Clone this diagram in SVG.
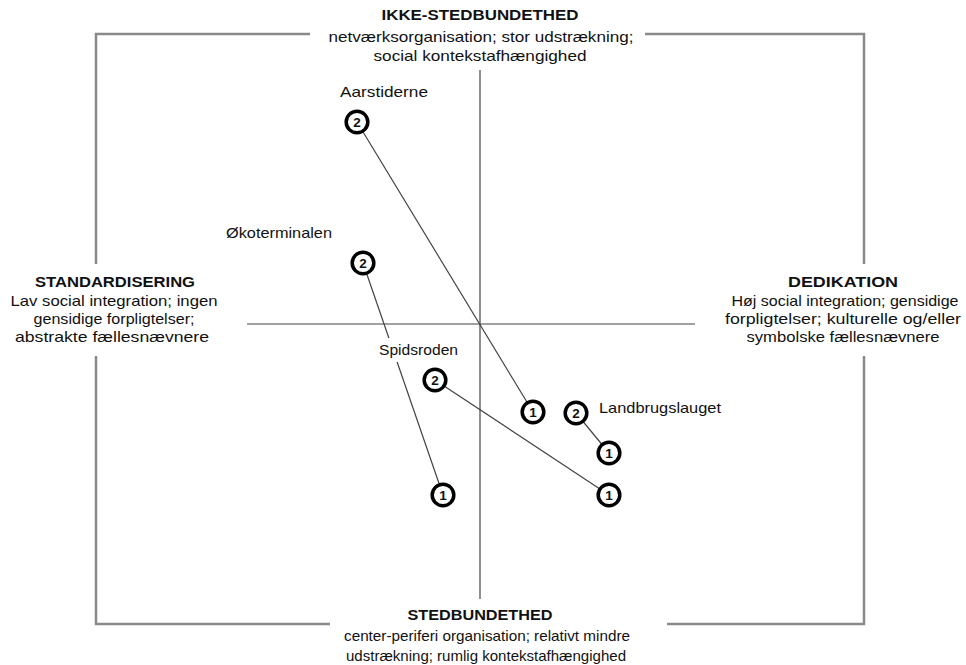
<svg xmlns="http://www.w3.org/2000/svg" width="966" height="665" viewBox="0 0 966 665">
<style>
text{font-family:"Liberation Sans",Arial,sans-serif;fill:#111;}
.h{font-weight:bold;font-size:14px;text-anchor:middle;}
.t{font-size:14.5px;text-anchor:middle;}
.lbl{font-size:14.5px;}
.frame{stroke:#8a8a8a;stroke-width:2.5;fill:none;}
.axis{stroke:#444;stroke-width:1.2;fill:none;}
.conn line{stroke:#444;stroke-width:1.2;}
.node circle{fill:#fff;stroke:#000;stroke-width:3.5;}
.num{font-size:13.5px;text-anchor:middle;font-weight:bold;}
</style>
<rect width="966" height="665" fill="#fff"/>
<g id="frame">
<path class="frame" d="M310 34 H96 V264"/>
<path class="frame" d="M96 356 V624 H330"/>
<path class="frame" d="M645 34 H864 V264"/>
<path class="frame" d="M864 356 V624 H667"/>
</g>
<g id="axes">
<line class="axis" x1="480" y1="70" x2="480" y2="599"/>
<line class="axis" x1="247" y1="324" x2="695" y2="324"/>
</g>
<g id="axis-labels">
<text class="h" x="480" y="20" textLength="197" lengthAdjust="spacingAndGlyphs">IKKE-STEDBUNDETHED</text>
<text class="t" x="481" y="42" textLength="305" lengthAdjust="spacingAndGlyphs">netværksorganisation; stor udstrækning;</text>
<text class="t" x="480" y="61" textLength="213" lengthAdjust="spacingAndGlyphs">social kontekstafhængighed</text>
<text class="h" x="115" y="287" textLength="160" lengthAdjust="spacingAndGlyphs">STANDARDISERING</text>
<text class="t" x="114" y="306" textLength="207" lengthAdjust="spacingAndGlyphs">Lav social integration; ingen</text>
<text class="t" x="114" y="324" textLength="161" lengthAdjust="spacingAndGlyphs">gensidige forpligtelser;</text>
<text class="t" x="112" y="342" textLength="194" lengthAdjust="spacingAndGlyphs">abstrakte fællesnævnere</text>
<text class="h" x="843" y="287" textLength="110" lengthAdjust="spacingAndGlyphs">DEDIKATION</text>
<text class="t" x="845" y="306" textLength="227" lengthAdjust="spacingAndGlyphs">Høj social integration; gensidige</text>
<text class="t" x="843" y="324" textLength="236" lengthAdjust="spacingAndGlyphs">forpligtelser; kulturelle og/eller</text>
<text class="t" x="843" y="342" textLength="193" lengthAdjust="spacingAndGlyphs">symbolske fællesnævnere</text>
<text class="h" x="480" y="620" textLength="145" lengthAdjust="spacingAndGlyphs">STEDBUNDETHED</text>
<text class="t" x="487" y="641" textLength="286" lengthAdjust="spacingAndGlyphs">center-periferi organisation; relativt mindre</text>
<text class="t" x="486" y="661" textLength="280" lengthAdjust="spacingAndGlyphs">udstrækning; rumlig kontekstafhængighed</text>
</g>
<g id="connectors" class="conn">
<line x1="357" y1="122" x2="533" y2="412"/>
<line x1="363" y1="263" x2="443" y2="495"/>
<line x1="435" y1="380" x2="609" y2="495"/>
<line x1="576" y1="413" x2="609" y2="453"/>
</g>
<g id="spidsroden-label">
<rect x="375" y="338" width="86" height="24" fill="#fff"/>
<text class="lbl" x="379" y="355" textLength="79" lengthAdjust="spacingAndGlyphs">Spidsroden</text>
</g>
<g id="aarstiderne">
<text class="lbl" x="340" y="97" textLength="88" lengthAdjust="spacingAndGlyphs">Aarstiderne</text>
<g class="node"><circle cx="357" cy="122" r="10.8"/><text class="num" x="357" y="127">2</text></g>
<g class="node"><circle cx="533" cy="412" r="10.8"/><text class="num" x="533" y="417">1</text></g>
</g>
<g id="okoterminalen">
<text class="lbl" x="226" y="238" textLength="106" lengthAdjust="spacingAndGlyphs">Økoterminalen</text>
<g class="node"><circle cx="363" cy="263" r="10.8"/><text class="num" x="363" y="268">2</text></g>
<g class="node"><circle cx="443" cy="495" r="10.8"/><text class="num" x="443" y="500">1</text></g>
</g>
<g id="spidsroden">
<g class="node"><circle cx="435" cy="380" r="10.8"/><text class="num" x="435" y="385">2</text></g>
<g class="node"><circle cx="609" cy="495" r="10.8"/><text class="num" x="609" y="500">1</text></g>
</g>
<g id="landbrugslauget">
<text class="lbl" x="599" y="413" textLength="122" lengthAdjust="spacingAndGlyphs">Landbrugslauget</text>
<g class="node"><circle cx="576" cy="413" r="10.8"/><text class="num" x="576" y="418">2</text></g>
<g class="node"><circle cx="609" cy="453" r="10.8"/><text class="num" x="609" y="458">1</text></g>
</g>
</svg>
